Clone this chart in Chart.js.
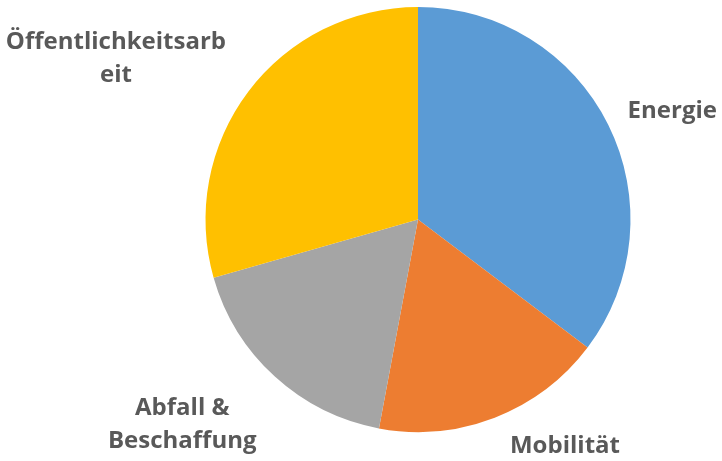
<!DOCTYPE html>
<html>
<head>
<meta charset="utf-8">
<script src="https://cdn.jsdelivr.net/npm/chart.js@4.4.1/dist/chart.umd.min.js"></script>
<style>
  html, body { margin: 0; padding: 0; background: #fff; }
  #wrap { width: 722px; height: 461px; }
</style>
</head>
<body>
<div id="wrap"><canvas id="pie"></canvas></div>
<script>
  // data
  const categories = ["Energie", "Mobilität", "Abfall & Beschaffung", "Öffentlichkeitsarbeit"];
  const values = [6, 3, 3, 5];
  const colors = ["#5b9bd5", "#ed7d31", "#a5a5a5", "#ffc000"];

  // label text lines (wrapped like in the original)
  const labelLines = [["Energie"], ["Mobilität"], ["Abfall &", "Beschaffung"], ["Öffentlichkeitsarb", "eit"]];
  // where to place each label: angle from 12 o'clock (deg, clockwise) and radius factor
  const labelAngle = [67, 147, 229, 298];
  const labelDist = [1.30, 1.27, 1.47, 1.61];

  const outsideLabels = {
    id: "outsideLabels",
    afterDraw: (chart) => {
      const ctx = chart.ctx;
      const arcs = chart.getDatasetMeta(0).data;
      ctx.save();
      ctx.font = "bold 24px 'Open Sans'";
      ctx.fillStyle = "#595959";
      ctx.textAlign = "center";
      ctx.textBaseline = "middle";
      arcs.forEach((arc, i) => {
        const a = labelAngle[i] * Math.PI / 180;
        const r = arc.outerRadius * labelDist[i];
        const x = arc.x + Math.sin(a) * r;
        const y = arc.y - Math.cos(a) * r;
        const lines = labelLines[i];
        const lh = 33;
        lines.forEach((t, k) => {
          ctx.fillText(t, x, y + (k - (lines.length - 1) / 2) * lh);
        });
      });
      ctx.restore();
    }
  };

  new Chart(document.getElementById("pie").getContext("2d"), {
    type: "pie",
    data: {
      labels: categories,
      datasets: [{
        data: values,
        backgroundColor: colors,
        borderWidth: 0
      }]
    },
    options: {
      responsive: true,
      maintainAspectRatio: false,
      animation: false,
      layout: { padding: { top: 7, bottom: 29, left: 200, right: 86 } },
      plugins: {
        legend: { display: false },
        tooltip: { enabled: false }
      }
    },
    plugins: [outsideLabels]
  });
</script>
</body>
</html>
